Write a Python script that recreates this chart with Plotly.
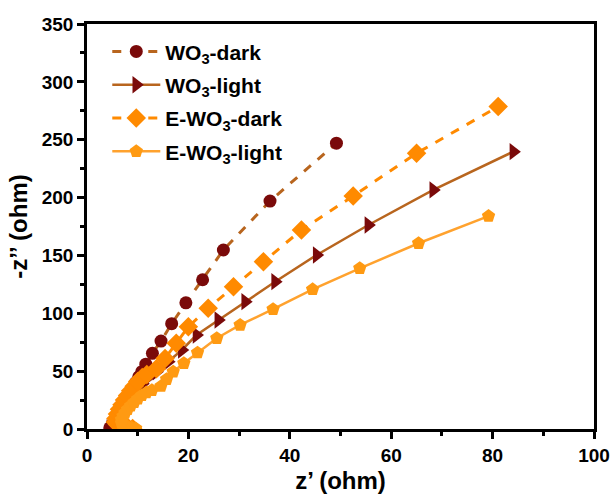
import plotly.graph_objects as go

# WO3-dark
wd_x = [4.5, 5.0, 5.5, 6.0, 6.5, 7.0, 7.5, 8.0, 8.5, 9.0, 9.6, 10.2, 10.8, 11.6, 12.9, 14.6, 16.7, 19.5, 22.8, 26.9, 36.1, 49.2]
wd_y = [1, 4, 7, 11, 15, 19, 23, 27, 31, 35, 40, 45, 49.5, 56, 65.4, 76, 91, 109, 129, 154.7, 197, 247]
# WO3-light
wl_x = [4.6, 5.1, 5.6, 6.1, 6.6, 7.1, 7.6, 8.1, 8.7, 9.4, 10.1, 10.9, 11.8, 13.7, 16.0, 18.7, 21.6, 25.9, 31.2, 37.1, 45.3, 55.5, 68.3, 84.1]
wl_y = [1, 4, 7, 10, 13, 16, 19, 22, 26, 30, 34, 39, 43.8, 49.5, 58.2, 68.3, 81.2, 94.2, 110, 127.3, 150.4, 176.3, 206.6, 239.7]
# E-WO3-dark
ed_x = [9.0, 8.0, 7.0, 6.0, 5.6, 5.7, 6.0, 6.4, 6.9, 7.4, 8.0, 8.6, 9.3, 10.0, 10.9, 11.8, 13.7, 15.4, 17.6, 20.0, 23.9, 28.9, 34.8, 42.3, 52.5, 65.0, 81.1]
ed_y = [0.5, 1.5, 2.5, 4, 6, 9, 13, 17, 21, 25, 29, 33, 37, 41, 44.5, 47, 52, 61, 74, 88.4, 104.3, 123, 144.6, 172, 201.4, 238.3, 278.6]
# E-WO3-light
el_x = [9.6, 8.8, 8.0, 7.3, 6.8, 6.8, 7.1, 7.5, 8.0, 8.6, 9.3, 10.0, 10.8, 11.7, 12.8, 14.6, 15.7, 17.0, 19.1, 21.8, 25.6, 30.2, 36.7, 44.5, 53.8, 65.4, 79.2]
el_y = [0.5, 1, 2, 3, 5, 8, 11, 14, 17, 20, 23, 26, 29, 31.5, 33.5, 37, 43, 49.5, 56.8, 66, 78.4, 89.9, 103.5, 120.7, 138.9, 160.5, 184]

x_ticks = [0, 20, 40, 60, 80, 100]
y_ticks = [0, 50, 100, 150, 200, 250, 300, 350]

MAROON = "#7A0A0A"
BROWN = "#B8651E"
ORANGE = "#FF8A00"
LORANGE = "#FF9A12"
LLINE = "#FFA22E"

FONT = "Arial, Liberation Sans, sans-serif"

fig = go.Figure()
fig.add_trace(go.Scatter(x=wd_x, y=wd_y, mode="lines+markers", name="WO<sub>3</sub>-dark",
                         line=dict(color=BROWN, width=3, dash="dash"), legendgroup="a",
                         marker=dict(symbol="circle", size=13, color=MAROON), legendrank=1))
fig.add_trace(go.Scatter(x=wl_x, y=wl_y, mode="lines+markers", name="WO<sub>3</sub>-light",
                         line=dict(color=BROWN, width=2.5), legendgroup="b",
                         marker=dict(symbol="triangle-right", size=15, color=MAROON), legendrank=2))
fig.add_trace(go.Scatter(x=ed_x, y=ed_y, mode="lines+markers", name="E-WO<sub>3</sub>-dark",
                         line=dict(color=ORANGE, width=3, dash="dash"), legendgroup="c",
                         marker=dict(symbol="diamond", size=15, color=ORANGE), legendrank=3))
fig.add_trace(go.Scatter(x=el_x, y=el_y, mode="lines+markers", name="E-WO<sub>3</sub>-light",
                         line=dict(color=LLINE, width=2.5), legendgroup="d",
                         marker=dict(symbol="pentagon", size=14, color=LORANGE), legendrank=4))

axis_common = dict(showline=True, linecolor="black", linewidth=2.5, mirror=True,
                   ticks="outside", ticklen=7, tickwidth=2.5, tickcolor="black",
                   showgrid=False, zeroline=False, automargin=False,
                   tickfont=dict(family=FONT, size=19, color="black", weight="bold"))

fig.update_xaxes(range=[0, 100], tickvals=x_ticks, ticktext=[str(v) for v in x_ticks],
                 minor=dict(ticks="outside", ticklen=4, tickwidth=2.5, tickcolor="black", dtick=10, tick0=0),
                 title=dict(text="z’ (ohm)", font=dict(family=FONT, size=24, color="black", weight="bold"), standoff=8),
                 **axis_common)
fig.update_yaxes(range=[0, 350], tickvals=y_ticks, ticktext=[str(v) for v in y_ticks],
                 minor=dict(ticks="outside", ticklen=4, tickwidth=2.5, tickcolor="black", dtick=25, tick0=0),
                 title=dict(text="-z’’ (ohm)", font=dict(family=FONT, size=24, color="black", weight="bold"), standoff=8),
                 **axis_common)

fig.update_layout(width=615, height=499, margin=dict(l=87, r=21, t=24, b=70),
                  plot_bgcolor="white", paper_bgcolor="white",
                  legend=dict(x=0.04, y=0.982, xanchor="left", yanchor="top",
                              bgcolor="rgba(0,0,0,0)", borderwidth=0, tracegroupgap=3,
                              itemwidth=48,
                              font=dict(family=FONT, size=21, color="black", weight="bold")),
                  showlegend=True)

fig.write_html("out.html", config={"displayModeBar": False},
               post_script="document.body.style.margin='0';")
